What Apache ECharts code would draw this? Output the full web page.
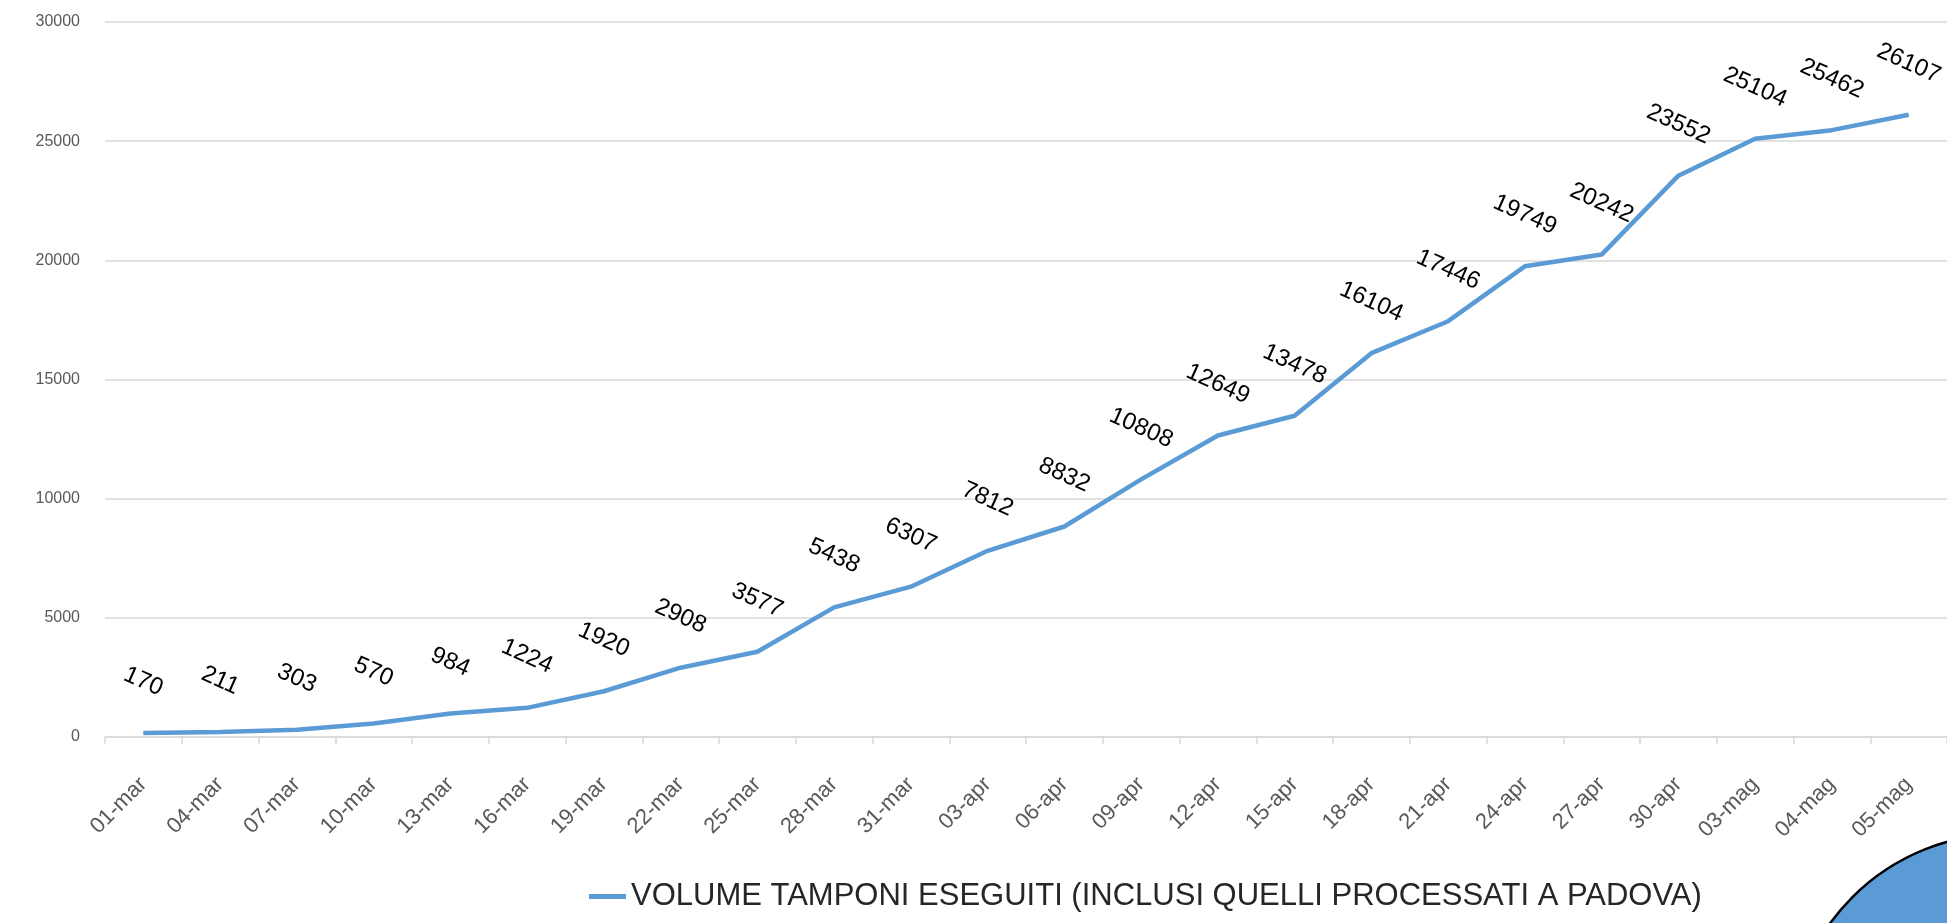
<!DOCTYPE html>
<html>
<head>
<meta charset="utf-8">
<script src="https://cdn.jsdelivr.net/npm/echarts@6/dist/echarts.min.js"></script>
<style>
html,body{margin:0;padding:0;background:#fff;}
#chart{width:1947px;height:923px;}
</style>
</head>
<body>
<div id="chart"></div>
<script>
// date (giorni)
var giorni = ['01-mar','04-mar','07-mar','10-mar','13-mar','16-mar','19-mar','22-mar','25-mar','28-mar','31-mar',
	'03-apr','06-apr','09-apr','12-apr','15-apr','18-apr','21-apr','24-apr','27-apr','30-apr','03-mag','04-mag','05-mag'];
// tamponi cumulativi
var tamponi = [170,211,303,570,984,1224,1920,2908,3577,5438,6307,7812,8832,10808,12649,13478,16104,17446,19749,20242,23552,25104,25462,26107];
var nomeSerie = 'VOLUME TAMPONI ESEGUITI (INCLUSI QUELLI PROCESSATI A PADOVA)';
var yTicks = [0,5000,10000,15000,20000,25000,30000];

var myChart = echarts.init(document.getElementById('chart'));
var font = 'Liberation Sans';
var option = {
	animation:false,
	textStyle:{fontFamily:font},
	grid:{
		left:105,
		right:-3,
		top:22,
		bottom:186,
		containLabel:false
	},
	legend:{
		left:584,
		top:876,
		icon:'rect',
		itemWidth:37,
		itemHeight:5,
		itemGap:10,
		textStyle:{fontSize:31,color:'#262626',fontFamily:font},
		data:[nomeSerie]
	},
	xAxis:{
		type:'category',
		boundaryGap:true,
		data:giorni,
		axisLine:{lineStyle:{color:'#d9d9d9',width:1.5}},
		axisTick:{show:true,length:7,lineStyle:{color:'#d9d9d9',width:1.5}},
		axisLabel:{interval:0,rotate:45,margin:44,fontSize:22,color:'#595959'}
	},
	yAxis:{
		type:'value',
		min:yTicks[0],
		max:yTicks[yTicks.length-1],
		interval:5000,
		axisLine:{show:false},
		axisTick:{show:false},
		splitLine:{lineStyle:{color:'#d9d9d9',width:1.5}},
		axisLabel:{margin:25,fontSize:16,color:'#595959',formatter:function(v){return String(v);}}
	},
	series:[{
		name:nomeSerie,
		type:'line',
		data:tamponi,
		symbol:'circle',
		symbolSize:1,
		showSymbol:true,
		itemStyle:{color:'#5B9BD5'},
		lineStyle:{color:'#5B9BD5',width:4.5},
		label:{
			show:true,
			position:'inside',
			offset:[-21,-47],
			rotate:-24,
			fontSize:24,
			color:'#000',
			fontFamily:font
		}
	}],
	graphic:[{
		type:'circle',
		shape:{cx:2005,cy:1050,r:216},
		style:{fill:'#5B9BD5',stroke:'#000',lineWidth:2.5},
		z:100
	}]
};
myChart.setOption(option);
</script>
</body>
</html>
